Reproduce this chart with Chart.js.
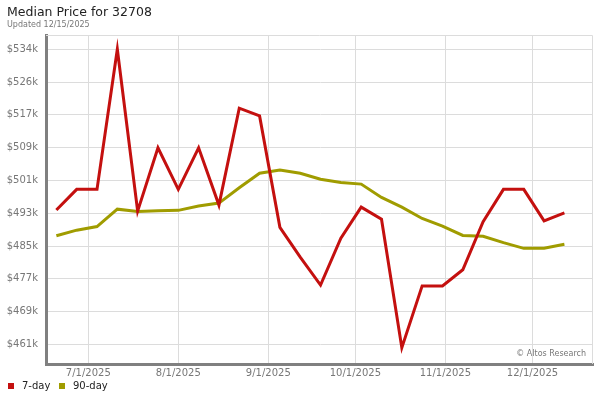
<!DOCTYPE html>
<html>
<head>
<meta charset="utf-8">
<script src="https://cdn.jsdelivr.net/npm/chart.js@4/dist/chart.umd.min.js"></script>
<style>
  body { margin: 0; background: #fff; }
  #wrap { width: 600px; height: 400px; }
</style>
</head>
<body>
<div id="wrap"><canvas id="price"></canvas></div>
<script>
// weekly data points, 2025
var dates = ['6/20', '6/27', '7/4', '7/11', '7/18', '7/25', '8/1', '8/8', '8/15', '8/22', '8/29',
             '9/5', '9/12', '9/19', '9/26', '10/3', '10/10', '10/17', '10/24', '10/31',
             '11/7', '11/14', '11/21', '11/28', '12/5', '12/12'];
// median price, $k
var sevenDay = [493.9, 499.0, 499.0, 533.7, 493.6, 509.3, 499.0, 509.3, 495.1, 519.1, 517.2,
                489.6, 482.2, 475.3, 486.9, 494.6, 491.6, 459.8, 475.1, 475.1,
                479.1, 491.0, 499.0, 499.0, 491.2, 493.2];
var ninetyDay = [487.5, 488.9, 489.8, 494.1, 493.5, 493.7, 493.8, 494.9, 495.6, 499.4, 503.0,
                 503.8, 503.0, 501.5, 500.7, 500.3, 497.0, 494.6, 491.8, 489.9,
                 487.6, 487.4, 485.8, 484.4, 484.4, 485.4];
var monthTicks = ['7/1/2025', '8/1/2025', '9/1/2025', '10/1/2025', '11/1/2025', '12/1/2025'];
var yTicks = [460.6, 468.72, 476.84, 484.96, 493.08, 501.2, 509.32, 517.44, 525.56, 533.68];
var yTickLabels = ['$461k', '$469k', '$477k', '$485k', '$493k', '$501k', '$509k', '$517k', '$526k', '$534k'];

function dayNum(s) {
    var p = s.split('/');
    var y = p[2] ? +p[2] : 2025;
    return Date.UTC(y, p[0] - 1, +p[1]) / 86400000;
}

var monthDays = monthTicks.map(dayNum);
var seriesA = dates.map(function (d, i) { return { x: dayNum(d), y: sevenDay[i] }; });
var seriesB = dates.map(function (d, i) { return { x: dayNum(d), y: ninetyDay[i] }; });

var frame = {
    id: 'frame',
    beforeDatasetsDraw: function (chart) {
        var a = chart.chartArea, c = chart.ctx;
        c.save();
        c.strokeStyle = '#dcdcdc';
        c.lineWidth = 1;
        c.beginPath();
        c.moveTo(a.left, a.top + 0.5);
        c.lineTo(a.right - 0.5, a.top + 0.5);
        c.lineTo(a.right - 0.5, a.bottom);
        c.stroke();
        c.restore();
    },
    afterDraw: function (chart) {
        var c = chart.ctx, a = chart.chartArea;
        c.save();
        c.textBaseline = 'middle';
        c.fillStyle = '#222';
        c.font = '12.5px "DejaVu Sans"';
        c.fillText('Median Price for 32708', 7, 13);
        c.fillStyle = '#777';
        c.font = '8px "DejaVu Sans"';
        c.fillText('Updated 12/15/2025', 7, 25);
        c.textAlign = 'right';
        c.fillText('\u00a9 Altos Research', a.right - 7, a.bottom - 10);
        // legend
        c.textAlign = 'left';
        c.font = '10px "DejaVu Sans"';
        c.fillStyle = '#c4100f';
        c.fillRect(8, 383, 6, 6);
        c.fillStyle = '#222';
        c.fillText('7-day', 22, 386.5);
        c.fillStyle = '#a09c00';
        c.fillRect(59, 383, 6, 6);
        c.fillStyle = '#222';
        c.fillText('90-day', 73, 386.5);
        c.restore();
    }
};

var ctx = document.getElementById('price').getContext('2d');
var myChart = new Chart(ctx, {
    type: 'line',
    data: {
        datasets: [{
            label: '7-day',
            data: seriesA,
            borderColor: '#c4100f',
            backgroundColor: '#c4100f',
            borderWidth: 3,
            pointRadius: 0,
            tension: 0
        }, {
            label: '90-day',
            data: seriesB,
            borderColor: '#a09c00',
            backgroundColor: '#a09c00',
            borderWidth: 3,
            pointRadius: 0,
            tension: 0
        }]
    },
    options: {
        responsive: true,
        maintainAspectRatio: false,
        animation: false,
        layout: { padding: { top: 35, right: 7, bottom: 16, left: 0 } },
        plugins: {
            legend: { display: false },
            tooltip: { enabled: false }
        },
        scales: {
            x: {
                type: 'linear',
                min: monthDays[0] - 14.57,
                max: monthDays[5] + 20.85,
                afterBuildTicks: function (scale) {
                    scale.ticks = monthDays.map(function (v) { return { value: v }; });
                },
                afterFit: function (scale) { scale.height = 20; },
                grid: { color: '#dcdcdc', drawTicks: false },
                border: { color: '#808080', width: 3 },
                ticks: {
                    padding: 3,
                    maxRotation: 0,
                    autoSkip: false,
                    color: '#777',
                    font: { family: 'DejaVu Sans', size: 10 },
                    callback: function (v, i) { return monthTicks[i]; }
                }
            },
            y: {
                min: 455.76,
                max: 537.22,
                afterBuildTicks: function (scale) {
                    scale.ticks = yTicks.map(function (v) { return { value: v }; });
                },
                afterFit: function (scale) { scale.width = 46; },
                grid: { color: '#dcdcdc', drawTicks: false },
                border: { color: '#808080', width: 3 },
                ticks: {
                    padding: 8,
                    autoSkip: false,
                    color: '#777',
                    font: { family: 'DejaVu Sans', size: 10 },
                    callback: function (v, i) { return yTickLabels[i]; }
                }
            }
        }
    },
    plugins: [frame]
});
</script>
</body>
</html>
